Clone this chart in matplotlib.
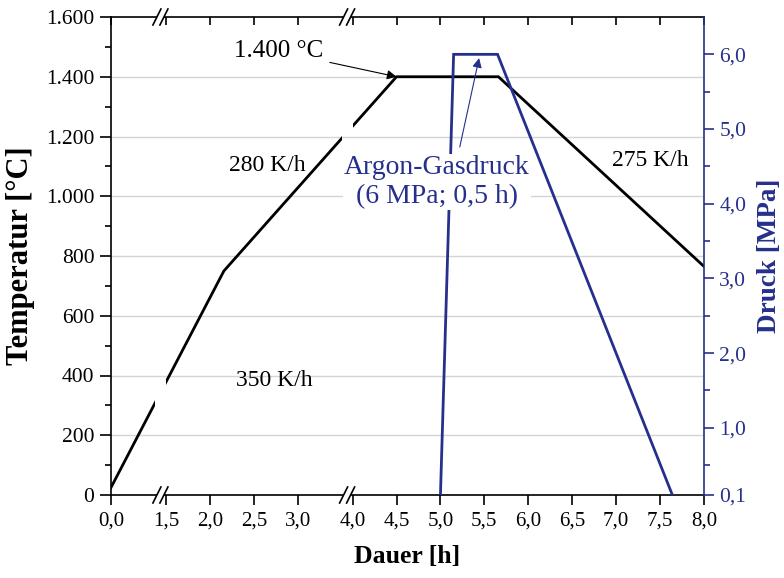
import numpy as np
import matplotlib
matplotlib.use("Agg")
import matplotlib.pyplot as plt
from matplotlib.ticker import FixedLocator, FuncFormatter
from matplotlib.patches import Rectangle
import matplotlib.transforms as mtransforms

plt.rcParams["font.family"] = ["Liberation Serif", "DejaVu Serif"]

# --- data -----------------------------------------------------------------
temp_time_h = [0.0, 2.16, 4.5, 5.66, 8.0]
temp_c = [25, 750, 1400, 1400, 765]

press_time_h = [5.0, 5.15, 5.65, 7.64]
press_mpa = [0.1, 6.0, 6.0, 0.1]

x_ticks = [0.0, 1.5, 2.0, 2.5, 3.0, 4.0, 4.5, 5.0, 5.5, 6.0, 6.5, 7.0, 7.5, 8.0]
t_major = [0, 200, 400, 600, 800, 1000, 1200, 1400, 1600]
t_minor = [100, 300, 500, 700, 900, 1100, 1300, 1500]
p_major = [0.1, 1.0, 2.0, 3.0, 4.0, 5.0, 6.0]
p_minor = [0.5, 1.5, 2.5, 3.5, 4.5, 5.5]

BLUE = "#26308C"
GRID = "#d4d4d4"

# --- broken time axis: compressed sections 0-1.5 h and 3-4 h ---------------
knots_h = np.array([0.0, 1.5, 3.0, 4.0, 8.0])
knots_u = np.array([0.0, 0.625, 2.125, 2.75, 6.75])


def fwd(x):
    return np.interp(x, knots_h, knots_u)


def inv(u):
    return np.interp(u, knots_u, knots_h)


# break bands (hours) where the curve is interrupted
breaks_h = [(inv(0.5), 1.5), (inv(2.625), 4.0)]


def de_num(v, decimals):
    s = f"{v:,.{decimals}f}"
    return s.replace(",", "X").replace(".", ",").replace("X", ".")


fig = plt.figure(figsize=(7.84, 5.78), dpi=100)
ax = fig.add_axes([111 / 784, 1 - 495 / 578, 593 / 784, 478 / 578])
ax.set_xscale("function", functions=(fwd, inv))
ax.set_xlim(0, 8)
ax.set_ylim(0, 1600)

ax2 = ax.twinx()
ax2.set_ylim(0.1, 6.5)

# gridlines
for t in t_major[1:-1]:
    ax.axhline(t, color=GRID, lw=1.0, zorder=0)

# temperature curve, interrupted at the axis breaks
blend = mtransforms.blended_transform_factory(ax.transData, ax.transAxes)
edges = [0.0] + [v for b in breaks_h for v in b] + [8.0]
for i in range(0, len(edges), 2):
    ln, = ax.plot(temp_time_h, temp_c, color="black", lw=2.0,
                  solid_joinstyle="miter", zorder=3)
    clip = Rectangle((edges[i], -0.1), edges[i + 1] - edges[i], 1.2,
                     transform=blend, fill=False, visible=False)
    ax.add_patch(clip)
    ln.set_clip_path(clip)

# pressure curve
ax2.plot(press_time_h, press_mpa, color=BLUE, lw=2.0,
         solid_joinstyle="miter", zorder=3)

# --- axes styling ----------------------------------------------------------
for sp in ("left", "bottom", "top"):
    ax.spines[sp].set_linewidth(1.2)
ax.spines["right"].set_visible(False)
for sp in ("left", "bottom", "top"):
    ax2.spines[sp].set_visible(False)
ax2.spines["right"].set_color(BLUE)
ax2.spines["right"].set_linewidth(1.2)

ax.xaxis.set_major_locator(FixedLocator(x_ticks))
ax.xaxis.set_minor_locator(FixedLocator([]))
ax.xaxis.set_major_formatter(FuncFormatter(lambda v, p: de_num(v, 1)))
ax.tick_params(axis="x", which="major", direction="out", length=7, width=1.2,
               labelsize=15, pad=5, top=False)

ax.yaxis.set_major_locator(FixedLocator(t_major))
ax.yaxis.set_minor_locator(FixedLocator(t_minor))
ax.yaxis.set_major_formatter(FuncFormatter(lambda v, p: de_num(v, 0)))
ax.tick_params(axis="y", which="major", direction="out", length=8, width=1.2,
               labelsize=15.5, pad=4)
ax.tick_params(axis="y", which="minor", direction="out", length=4.5, width=1.2)

# inward ticks along the top edge
ax2.xaxis.set_visible(True)
ax2.xaxis.tick_top()
ax2.tick_params(axis="x", which="major", direction="in", length=6, width=1.2,
                labeltop=False, labelbottom=False, bottom=False)
ax2.tick_params(axis="x", which="minor", top=False, bottom=False)

ax2.yaxis.set_major_locator(FixedLocator(p_major))
ax2.yaxis.set_minor_locator(FixedLocator(p_minor))
ax2.yaxis.set_major_formatter(FuncFormatter(lambda v, p: de_num(v, 1)))
ax2.tick_params(axis="y", which="major", direction="out", length=7, width=1.2,
                labelsize=15.5, colors=BLUE, pad=4)
ax2.tick_params(axis="y", which="minor", direction="out", length=4.5,
                width=1.2, colors=BLUE)

ax.set_xlabel("Dauer [h]", fontsize=18.5, fontweight="bold", labelpad=10)
ax.set_ylabel("Temperatur [°C]", fontsize=22, fontweight="bold", labelpad=8)
ax2.set_ylabel("Druck [MPa]", fontsize=19.5, fontweight="bold", color=BLUE,
               labelpad=8)

# --- axis break marks ------------------------------------------------------
W, H = 593.0, 478.0
for b0, b1 in breaks_h:
    xc = (fwd(b0) + fwd(b1)) / 2 / knots_u[-1]
    for yb in (0.0, 1.0):
        ax.add_patch(Rectangle((xc - 3.5 / W, yb - 2 / H), 7 / W, 4 / H,
                               transform=ax.transAxes, facecolor="white",
                               edgecolor="none", clip_on=False, zorder=6))
        for off in (-3.5, 3.5):
            xs = [xc + (off - 4) / W, xc + (off + 4) / W]
            ys = [yb - 8 / H, yb + 8 / H]
            ax.plot(xs, ys, transform=ax.transAxes, color="black", lw=1.2,
                    clip_on=False, zorder=7)

# --- annotations -----------------------------------------------------------
ax.annotate("1.400 °C", xy=(temp_time_h[2], temp_c[2]),
            xytext=(2.78, 1485), textcoords="data", fontsize=18,
            ha="center", va="center",
            arrowprops=dict(arrowstyle="-|>", color="black", lw=0.8,
                            mutation_scale=14, shrinkA=3, shrinkB=0))
ax.text(2.65, 1102, "280 K/h", fontsize=17, ha="center", va="center")
ax.text(2.73, 384, "350 K/h", fontsize=17, ha="center", va="center")
ax.text(7.39, 1119, "275 K/h", fontsize=17, ha="center", va="center")

ax2.text(4.96, 4.29, "Argon-Gasdruck\n(6 MPa; 0,5 h)", fontsize=20,
         color=BLUE, ha="center", va="center", linespacing=1.2,
         bbox=dict(facecolor="white", edgecolor="none", pad=1), zorder=4)
ax2.annotate("", xy=(5.44, 5.95), xytext=(5.22, 4.76),
             arrowprops=dict(arrowstyle="-|>", color=BLUE, lw=0.8,
                             mutation_scale=14, shrinkA=0, shrinkB=0),
             zorder=5)

fig.savefig("out.png", dpi=100)
